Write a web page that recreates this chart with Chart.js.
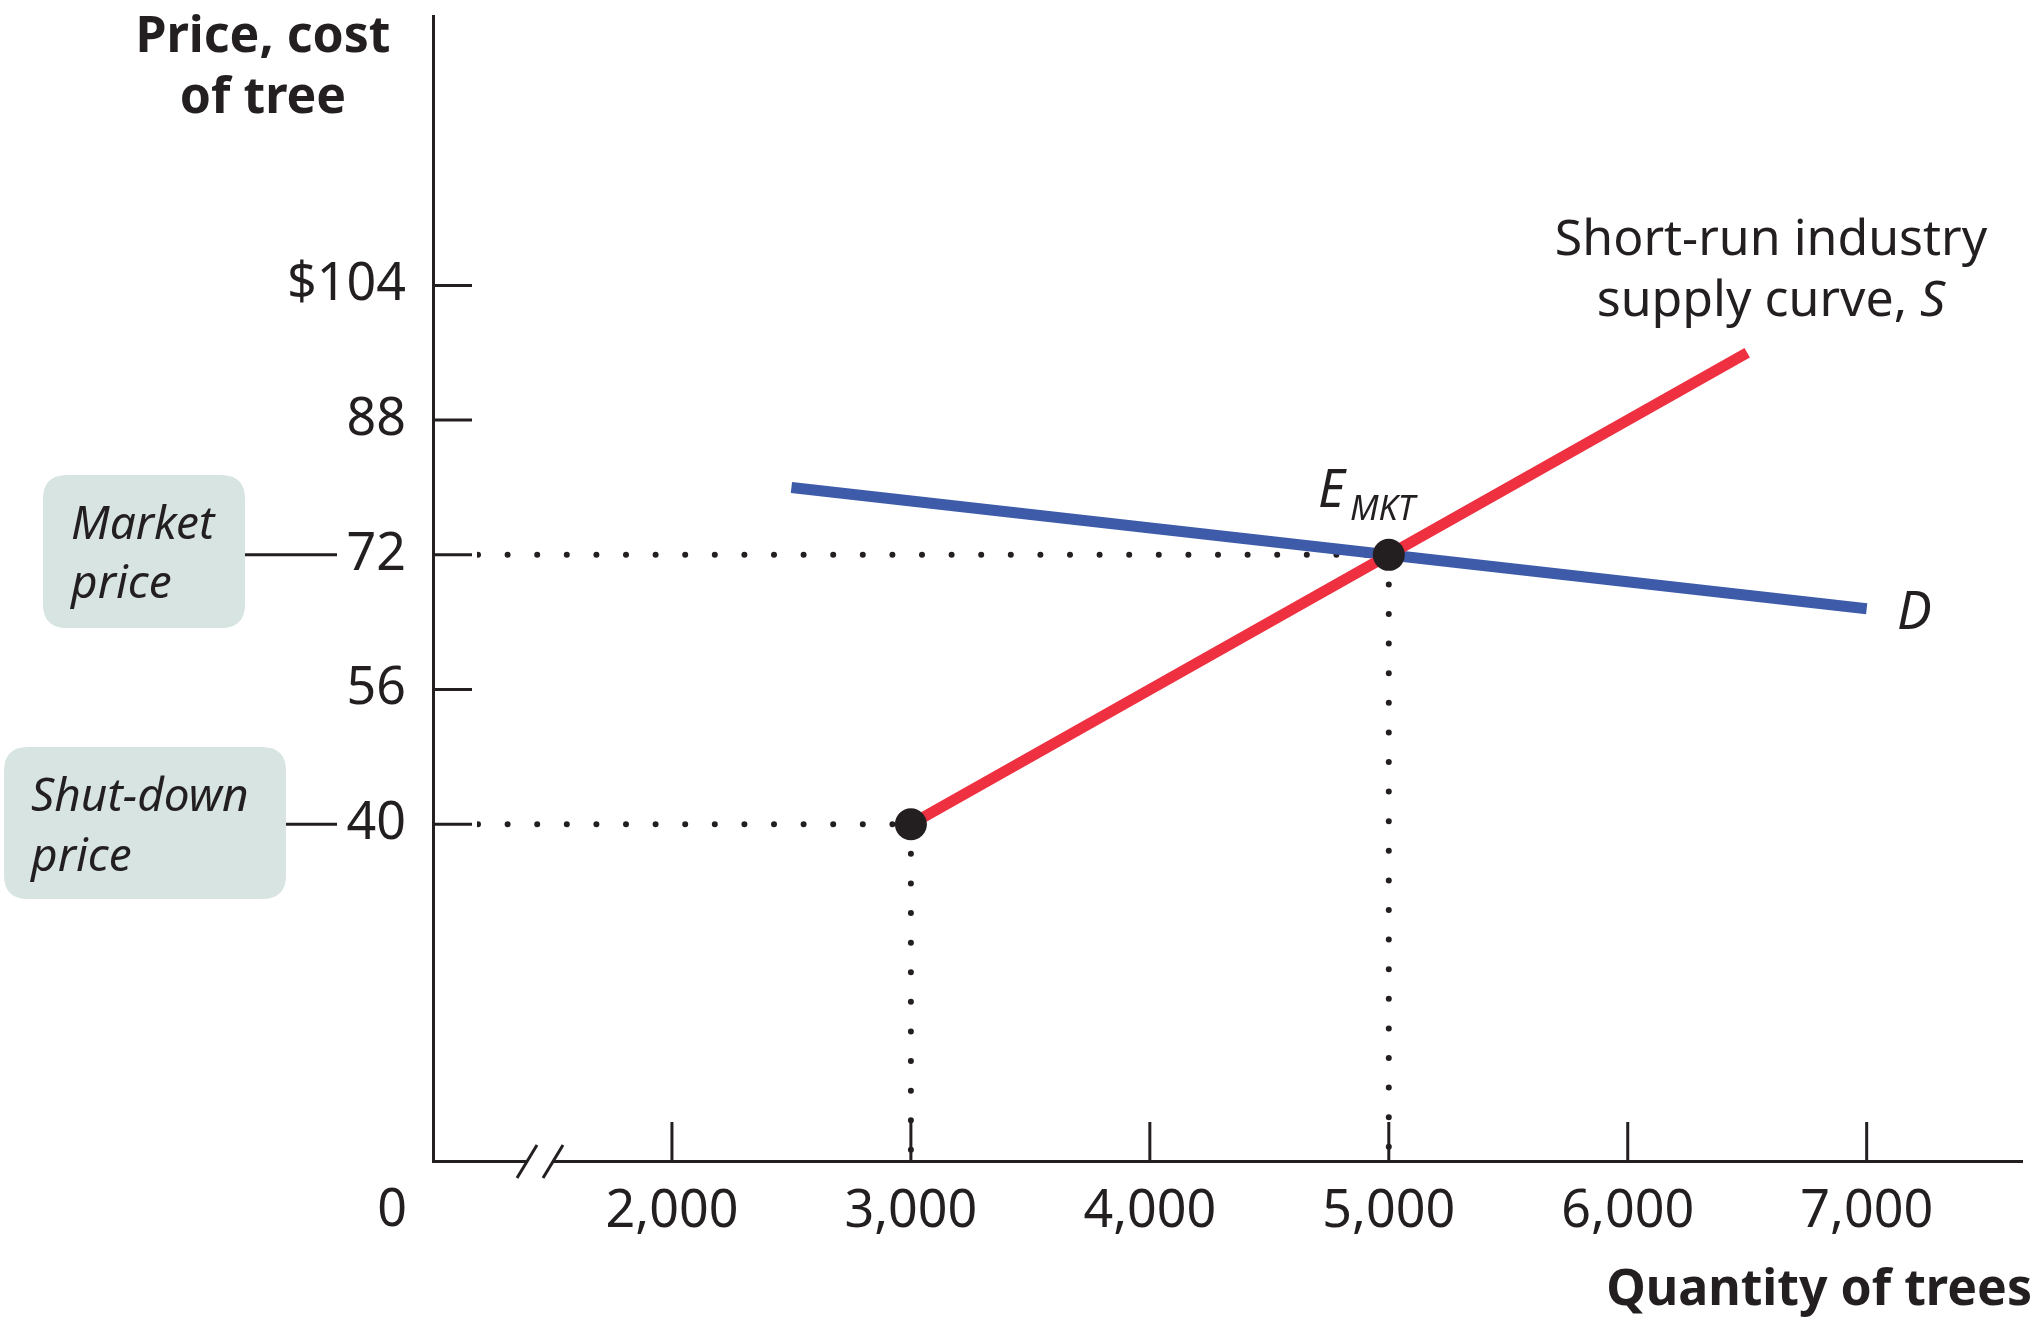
<!DOCTYPE html>
<html>
<head>
<meta charset="utf-8">
<script src="https://cdn.jsdelivr.net/npm/chart.js@4.4.1/dist/chart.umd.min.js"></script>
<style>
  html, body { margin: 0; padding: 0; background: #ffffff; }
  #wrap { width: 2038px; height: 1324px; }
</style>
</head>
<body>
<div id="wrap"><canvas id="c" width="2038" height="1324"></canvas></div>
<script>
// ---- data ----
const xTicks = [2000, 3000, 4000, 5000, 6000, 7000];
const yTicks = [40, 56, 72, 88, 104];
const supplyX = [3000, 6500];
const supplyY = [40, 96];
const demandX = [2500, 7000];
const demandY = [80, 65.6];
const pointX = [3000, 5000];
const pointY = [40, 72];
const marketPrice = 72;
const shutdownPrice = 40;
const xOrigin = 1000;

const FONT = '"Noto Sans", "Open Sans", sans-serif';
const INK = '#231f20';
const RED = '#ee3040';
const BLUE = '#3d5ba9';
const BOX = '#d7e4e2';

function pts(xs, ys) { return xs.map((x, i) => ({ x: x, y: ys[i] })); }

const guideStyle = {
  borderColor: INK, borderWidth: 6, borderDash: [0, 29.6], borderCapStyle: 'round',
  pointRadius: 0, showLine: true, fill: false, order: 3
};

const overlay = {
  id: 'overlay',
  afterDatasetsDraw(chart) {
    const ctx = chart.ctx;
    const xs = chart.scales.x, ys = chart.scales.y;
    const left = xs.getPixelForValue(xOrigin);
    const bottom = ys.getPixelForValue(0);
    ctx.save();
    ctx.strokeStyle = INK;
    ctx.lineWidth = 3;
    // inward tick marks
    xTicks.forEach(v => {
      const px = xs.getPixelForValue(v);
      ctx.beginPath(); ctx.moveTo(px, bottom); ctx.lineTo(px, bottom - 39); ctx.stroke();
    });
    ctx.fillStyle = '#ffffff';
    yTicks.forEach(v => {
      const py = ys.getPixelForValue(v);
      ctx.fillRect(left + 2, py - 4, 42, 8);
      ctx.beginPath(); ctx.moveTo(left, py); ctx.lineTo(left + 39, py); ctx.stroke();
    });
    // axis break
    ctx.fillStyle = '#ffffff';
    ctx.fillRect(528, bottom - 4, 24, 8);
    ctx.lineWidth = 3;
    ctx.beginPath(); ctx.moveTo(517, bottom + 17); ctx.lineTo(537, bottom - 16); ctx.stroke();
    ctx.beginPath(); ctx.moveTo(543, bottom + 17); ctx.lineTo(563, bottom - 16); ctx.stroke();
    ctx.restore();
  },
  afterDraw(chart) {
    const ctx = chart.ctx;
    const ys = chart.scales.y;
    ctx.save();
    ctx.fillStyle = INK;
    ctx.textBaseline = 'alphabetic';

    // axis titles
    ctx.font = 'bold 50px ' + FONT;
    ctx.textAlign = 'center';
    ctx.fillText('Price, cost', 263, 52);
    ctx.fillText('of tree', 263, 113);
    ctx.textAlign = 'right';
    ctx.fillText('Quantity of trees', 2032, 1305);

    // origin label
    ctx.font = '52px ' + FONT;
    ctx.textAlign = 'right';
    ctx.textBaseline = 'middle';
    ctx.fillText('0', 407, 1211);
    ctx.textBaseline = 'alphabetic';

    // callout boxes
    function roundBox(x, y, w, h, r) {
      ctx.beginPath();
      ctx.moveTo(x + r, y);
      ctx.lineTo(x + w - r, y); ctx.quadraticCurveTo(x + w, y, x + w, y + r);
      ctx.lineTo(x + w, y + h - r); ctx.quadraticCurveTo(x + w, y + h, x + w - r, y + h);
      ctx.lineTo(x + r, y + h); ctx.quadraticCurveTo(x, y + h, x, y + h - r);
      ctx.lineTo(x, y + r); ctx.quadraticCurveTo(x, y, x + r, y);
      ctx.closePath();
      ctx.fillStyle = BOX; ctx.fill();
    }
    const yM = ys.getPixelForValue(marketPrice);
    const yS = ys.getPixelForValue(shutdownPrice);
    roundBox(43, 475, 202, 153, 24);
    roundBox(4, 747, 282, 152, 24);
    ctx.strokeStyle = INK; ctx.lineWidth = 3;
    ctx.beginPath(); ctx.moveTo(245, yM); ctx.lineTo(337, yM); ctx.stroke();
    ctx.beginPath(); ctx.moveTo(286, yS); ctx.lineTo(337, yS); ctx.stroke();

    ctx.fillStyle = INK;
    ctx.textAlign = 'left';
    ctx.font = 'italic 46px ' + FONT;
    ctx.fillText('Market', 71, 539);
    ctx.fillText('price', 71, 598);
    ctx.fillText('Shut-down', 31, 811);
    ctx.fillText('price', 31, 871);

    // supply label
    ctx.font = '50px ' + FONT;
    ctx.textAlign = 'center';
    ctx.fillText('Short-run industry', 1771, 255);
    const part1 = 'supply curve, ';
    const w1 = ctx.measureText(part1).width;
    ctx.font = 'italic 50px ' + FONT;
    const w2 = ctx.measureText('S').width;
    const sx = 1771 - (w1 + w2) / 2;
    ctx.textAlign = 'left';
    ctx.font = '50px ' + FONT;
    ctx.fillText(part1, sx, 316);
    ctx.font = 'italic 50px ' + FONT;
    ctx.fillText('S', sx + w1, 316);

    // demand label
    ctx.font = 'italic 52px ' + FONT;
    ctx.fillText('D', 1897, 629);

    // equilibrium label
    ctx.font = 'italic 52px ' + FONT;
    ctx.fillText('E', 1318, 507);
    ctx.font = 'italic 34px ' + FONT;
    ctx.fillText('MKT', 1350, 520);

    ctx.restore();
  }
};

new Chart(document.getElementById('c'), {
  type: 'scatter',
  data: {
    datasets: [
      { label: 'Points', data: pts(pointX, pointY), pointRadius: 16, pointBackgroundColor: INK,
        pointBorderWidth: 0, showLine: false, order: 0 },
      { label: 'S', data: pts(supplyX, supplyY), borderColor: RED, borderWidth: 11,
        borderCapStyle: 'butt', pointRadius: 0, showLine: true, order: 1 },
      { label: 'D', data: pts(demandX, demandY), borderColor: BLUE, borderWidth: 11,
        borderCapStyle: 'butt', pointRadius: 0, showLine: true, order: 2 },
      Object.assign({ label: 'g1', data: [{ x: xOrigin, y: marketPrice }, { x: pointX[1], y: marketPrice }], borderDashOffset: -15.4 }, guideStyle),
      Object.assign({ label: 'g2', data: [{ x: pointX[1], y: marketPrice }, { x: pointX[1], y: 0 }] }, guideStyle),
      Object.assign({ label: 'g3', data: [{ x: xOrigin, y: shutdownPrice }, { x: pointX[0], y: shutdownPrice }], borderDashOffset: -15.4 }, guideStyle),
      Object.assign({ label: 'g4', data: [{ x: pointX[0], y: shutdownPrice }, { x: pointX[0], y: 0 }] }, guideStyle)
    ]
  },
  options: {
    responsive: false,
    devicePixelRatio: 1,
    animation: false,
    layout: { padding: { top: 10, right: 3, left: 0, bottom: 0 } },
    plugins: { legend: { display: false }, tooltip: { enabled: false } },
    scales: {
      x: {
        type: 'linear', min: 1000, max: 7650,
        afterBuildTicks: s => { s.ticks = xTicks.map(v => ({ value: v })); },
        afterFit: s => { s.height = 163; s.paddingLeft = 0; s.paddingRight = 0; },
        grid: { display: false, drawTicks: false },
        border: { display: true, color: INK, width: 3 },
        ticks: {
          autoSkip: false, maxRotation: 0, padding: 20, color: INK,
          font: { family: FONT, size: 52 },
          callback: v => v.toLocaleString('en-US')
        }
      },
      y: {
        type: 'linear', min: 0, max: 136,
        afterBuildTicks: s => { s.ticks = yTicks.map(v => ({ value: v })); },
        afterFit: s => { s.width = 433; s.paddingTop = 0; s.paddingBottom = 0; },
        grid: { display: false, drawTicks: false },
        border: { display: true, color: INK, width: 3 },
        ticks: {
          autoSkip: false, padding: 27, color: INK,
          font: { family: FONT, size: 52 },
          callback: v => (v === 104 ? '$104' : String(v))
        }
      }
    }
  },
  plugins: [overlay]
});
</script>
</body>
</html>
